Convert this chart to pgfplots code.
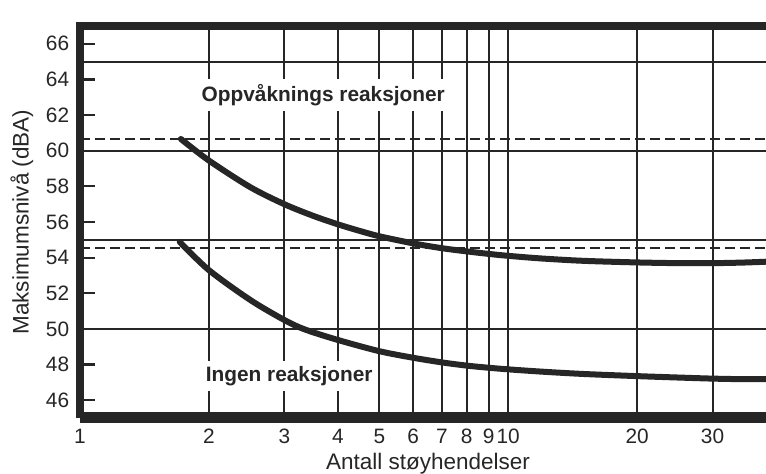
\documentclass[border=0pt]{standalone}
\usepackage{fontspec}
\setmainfont{Liberation Sans}
\usepackage{pgfplots}
\pgfplotsset{compat=1.18}
\definecolor{ink}{HTML}{262626}
\begin{document}
\begin{tikzpicture}
\begin{axis}[
  scale only axis, width=411.6pt, height=235.2pt,
  xmode=log, log basis x=10, xmin=1, xmax=40, ymin=45, ymax=67,
  axis line style={draw=none},
  xtick={1,2,3,4,5,6,7,8,9,10,20,30},
  xticklabels={1,2,3,4,5,6,7,8,9,10,20,30},
  minor x tick num=0, xminorticks=false,
  xmajorgrids, grid style={ink, line width=1.2pt},
  x tick style={draw=none},
  ytick={46,48,...,66}, ytick pos=left, tick align=inside,
  y tick style={ink, line width=1.3pt}, major tick length=9pt,
  /pgf/number format/assume math mode=true,
  tick label style={font=\fontsize{12.5}{14}\selectfont, text=ink},
  yticklabel style={xshift=-3pt},
  xticklabel style={yshift=-3pt},
  xlabel={Antall støyhendelser}, ylabel={Maksimumsnivå (dBA)},
  label style={font=\fontsize{13.5}{16}\selectfont, text=ink},
  xlabel style={at={(rel axis cs:0.5,0)}, anchor=center, yshift=-27.5pt, xshift=3pt},
  ylabel style={at={([xshift=-34.8pt]rel axis cs:0,0.5)}, anchor=center},
  clip=false,
]
% horizontal reference lines
\addplot[ink, line width=1.1pt, forget plot] coordinates {(1,65) (40,65)};
\addplot[ink, line width=1.1pt, forget plot] coordinates {(1,60) (40,60)};
\addplot[ink, line width=1.1pt, forget plot] coordinates {(1,55) (40,55)};
\addplot[ink, line width=1.1pt, forget plot] coordinates {(1,50) (40,50)};
\addplot[ink, line width=1.1pt, dash pattern=on 6pt off 3pt, forget plot] coordinates {(1,60.65) (40,60.65)};
\addplot[ink, line width=1.1pt, dash pattern=on 6pt off 3pt, forget plot] coordinates {(1,54.55) (40,54.55)};
% labels (white boxes interrupt the grid)
\node[fill=white, inner xsep=1pt, inner ysep=3pt, text=ink,
  font=\bfseries\fontsize{12.5}{15}\selectfont] at (axis cs:3.70,63.13) {Oppvåknings reaksjoner};
\node[fill=white, inner xsep=1pt, inner ysep=3pt, text=ink,
  font=\bfseries\fontsize{12.5}{15}\selectfont] at (axis cs:3.08,47.35) {Ingen reaksjoner};
% curves
\addplot[ink, line width=3.6pt, smooth, line cap=round] table {
x y
1.72 60.66
2 59.45
2.5 57.95
3 57.00
3.5 56.35
4 55.87
4.5 55.50
5 55.20
6 54.80
7 54.53
8 54.35
9 54.21
10 54.10
12 53.95
15 53.82
20 53.73
25 53.69
30 53.69
35 53.72
40 53.77
};
\addplot[ink, line width=3.6pt, smooth, line cap=round] table {
x y
1.71 54.88
2 53.30
2.5 51.62
3 50.50
3.35 49.97
4 49.38
5 48.75
6 48.38
7 48.12
8 47.94
9 47.82
10 47.73
12 47.60
15 47.47
20 47.35
25 47.27
30 47.21
35 47.18
40 47.18
};
% frame (left, top, bottom)
\draw[ink, line width=4.8pt] (rel axis cs:1,1) -- (rel axis cs:0,1) -- (rel axis cs:0,0);
\draw[ink, line width=6.6pt] (rel axis cs:0,0) -- (rel axis cs:1,0);
\coordinate (BL) at ([xshift=-48pt,yshift=-33.6pt]rel axis cs:0,0);
\coordinate (TR) at ([yshift=15.6pt]rel axis cs:1,1);
\end{axis}
\pgfresetboundingbox
\path (BL) rectangle (TR);
\end{tikzpicture}
\end{document}
